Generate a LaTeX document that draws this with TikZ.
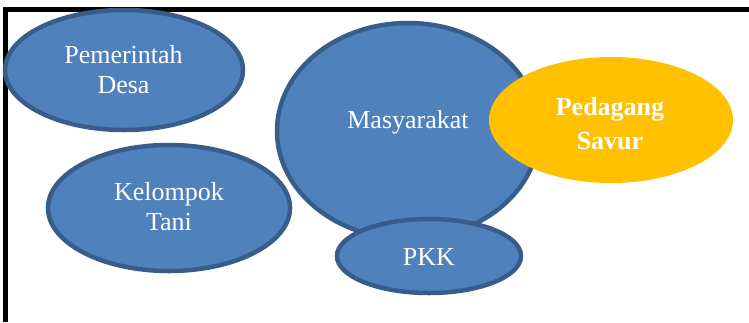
\documentclass[tikz,border=0pt]{standalone}
\usepackage{fontspec}
\setmainfont{Liberation Serif}
\usetikzlibrary{shapes.geometric}
\definecolor{bluefill}{HTML}{4F81BD}
\definecolor{blueline}{HTML}{385D8A}
\definecolor{gold}{HTML}{FFC000}
\tikzset{
  blob/.style={ellipse, draw=blueline, line width=4.5pt, fill=bluefill, inner sep=0pt},
  goldblob/.style={ellipse, fill=gold, inner sep=0pt},
  lbl/.style={text=white, font=\fontsize{26}{30}\selectfont, align=center, inner sep=0pt, anchor=base},
  boldlbl/.style={text=white, font=\fontsize{26}{34}\selectfont\bfseries, align=center, inner sep=0pt, anchor=base},
  frame/.style={line width=5pt, draw=black}
}
\begin{document}
\begin{tikzpicture}[x=1pt,y=-1pt]
\useasboundingbox (0,0) rectangle (749,322);
\coordinate (fb) at (5.8,322);
\coordinate (fc) at (5.8,9);
\coordinate (fr) at (749,9);
\draw[frame] (fb) -- (fc) -- (fr);
\node[blob, minimum width=238pt, minimum height=120pt] (desa) at (124,70) {};
\node[blob, minimum width=242pt, minimum height=126pt] (tani) at (169,208) {};
\node[blob, minimum width=262pt, minimum height=216pt] (masy) at (408,131) {};
\node[goldblob, minimum width=244pt, minimum height=126pt] (savur) at (611,120) {};
\node[blob, minimum width=184pt, minimum height=74pt] (pkk) at (429,256) {};
\node[lbl] (tdesa) at (123.5,93) {Pemerintah\\Desa};
\node[lbl] (ttani) at (169,230) {Kelompok\\Tani};
\node[lbl] (tmasy) at (408,128) {Masyarakat};
\node[boldlbl] (tsavur) at (610,149) {Pedagang\\Savur};
\node[lbl] (tpkk) at (429,265) {PKK};
\end{tikzpicture}
\end{document}
